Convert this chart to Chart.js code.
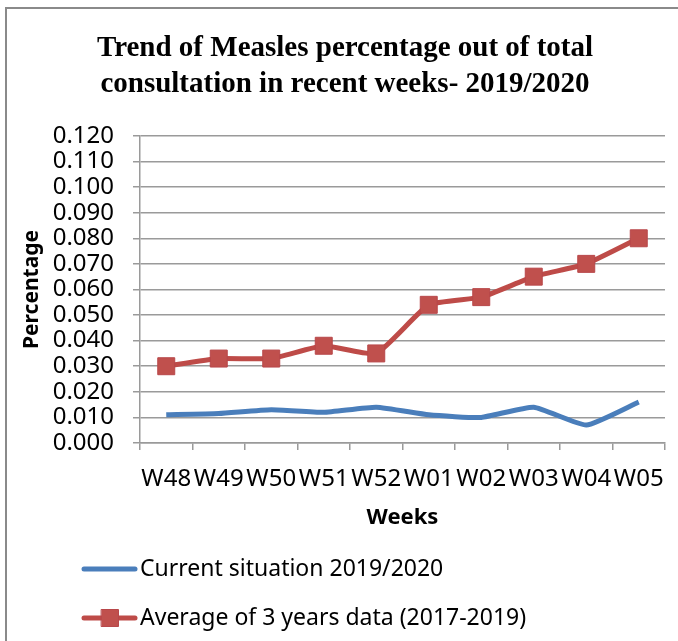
<!DOCTYPE html>
<html>
<head>
<meta charset="utf-8">
<script src="https://cdn.jsdelivr.net/npm/chart.js@4.4.1/dist/chart.umd.min.js"></script>
<style>
  body { margin: 0; background: #fff; }
  #wrap { position: relative; width: 678px; height: 641px; }
</style>
</head>
<body>
<div id="wrap"><canvas id="chart"></canvas></div>
<script>
// data
var weeks = ['W48', 'W49', 'W50', 'W51', 'W52', 'W01', 'W02', 'W03', 'W04', 'W05'];
var currentSituation = [0.011, 0.0115, 0.013, 0.012, 0.014, 0.011, 0.010, 0.014, 0.007, 0.016];
var threeYearAverage = [0.030, 0.033, 0.033, 0.038, 0.035, 0.054, 0.057, 0.065, 0.070, 0.080];
var seriesNames = ['Current situation 2019/2020', 'Average of 3 years data (2017-2019)'];
var titleLines = ['Trend of Measles percentage out of total', 'consultation in recent weeks- 2019/2020'];
var yMin = 0, yMax = 0.12, yStep = 0.01;

var gridGray = '#9a9a9a';
var sans = 'Noto Sans';

// grey frame round the chart (only top and left edges show in the picture)
var framePlugin = {
  id: 'frame',
  beforeDraw: function(chart) {
    var ctx = chart.ctx;
    ctx.save();
    ctx.fillStyle = '#fff';
    ctx.fillRect(0, 0, chart.width, chart.height);
    ctx.strokeStyle = '#8a8a8a';
    ctx.lineWidth = 2;
    ctx.beginPath();
    ctx.moveTo(6, chart.height);
    ctx.lineTo(6, 8);
    ctx.lineTo(chart.width, 8);
    ctx.stroke();
    ctx.restore();
  }
};

// legend stacked under the axis, one row per series
var stackedLegend = {
  id: 'stackedLegend',
  afterDraw: function(chart) {
    var ctx = chart.ctx;
    var rows = [569, 618];
    chart.data.datasets.forEach(function(ds, i) {
      var y = rows[i];
      ctx.save();
      ctx.strokeStyle = ds.borderColor;
      ctx.lineWidth = ds.borderWidth;
      ctx.lineCap = 'round';
      ctx.beginPath();
      ctx.moveTo(84, y);
      ctx.lineTo(135, y);
      ctx.stroke();
      if (ds.pointRadius > 0) {
        ctx.fillStyle = ds.pointBackgroundColor;
        ctx.strokeStyle = ds.pointBorderColor;
        ctx.lineWidth = ds.pointBorderWidth;
        Chart.helpers.drawPoint(ctx, {pointStyle: 'rect', radius: ds.pointRadius, borderWidth: ds.pointBorderWidth, rotation: 0}, 110, y);
      }
      ctx.fillStyle = '#000';
      ctx.font = '23px "' + sans + '"';
      ctx.textBaseline = 'middle';
      ctx.textAlign = 'left';
      ctx.fillText(ds.label, 140, y);
      ctx.restore();
    });
  }
};

var ctx = document.getElementById('chart').getContext('2d');
var chart = new Chart(ctx, {
  type: 'line',
  data: {
    labels: weeks,
    datasets: [{
      label: seriesNames[0],
      data: currentSituation,
      borderColor: '#4a7ebb',
      backgroundColor: '#4a7ebb',
      borderWidth: 5,
      tension: 0.15,
      pointRadius: 0,
      pointHoverRadius: 0
    }, {
      label: seriesNames[1],
      data: threeYearAverage,
      borderColor: '#be4b48',
      backgroundColor: '#be4b48',
      borderWidth: 5,
      tension: 0.15,
      pointStyle: 'rect',
      pointRadius: 12,
      pointBackgroundColor: '#c0504d',
      pointBorderColor: '#b8474a',
      pointBorderWidth: 1,
      pointHoverRadius: 12
    }]
  },
  options: {
    responsive: true,
    maintainAspectRatio: false,
    animation: false,
    layout: { padding: { left: 22, right: 10, top: 0, bottom: 103 } },
    plugins: {
      legend: { display: false },
      tooltip: { enabled: false },
      title: {
        display: true,
        text: titleLines,
        color: '#000',
        font: { family: 'Liberation Serif', size: 29, weight: 'bold', lineHeight: 1.24 },
        padding: { top: 31, bottom: 33 }
      }
    },
    scales: {
      x: {
        offset: true,
        afterFit: function(scale) {
          scale.height = 95;
          // labels sit inside their categories, no extra side room needed
          scale.paddingLeft = 0;
          scale.paddingRight = 0;
        },
        ticks: { color: '#000', font: { family: sans, size: 24 }, padding: 15, maxRotation: 0, autoSkip: false },
        grid: { offset: true, drawOnChartArea: false, color: gridGray, lineWidth: 1.5, tickLength: 7 },
        border: { color: gridGray, width: 1.5 },
        title: {
          display: true, text: 'Weeks', color: '#000',
          font: { family: sans, size: 22, weight: 'bold' },
          padding: { top: 0, bottom: 7 }
        }
      },
      y: {
        min: yMin,
        max: yMax,
        afterFit: function(scale) { scale.width = 118; },
        ticks: {
          stepSize: yStep, autoSkip: false, color: '#000',
          font: { family: sans, size: 24, lineHeight: 1 }, padding: 19,
          callback: function(v) { return v.toFixed(3); }
        },
        grid: { color: gridGray, lineWidth: 1.5, tickLength: 7 },
        border: { color: gridGray, width: 1.5 },
        title: {
          display: true, text: 'Percentage', color: '#000',
          font: { family: sans, size: 21, weight: 'bold', lineHeight: 1 },
          padding: { top: 0, bottom: 0 }
        }
      }
    }
  },
  plugins: [framePlugin, stackedLegend]
});
</script>
</body>
</html>
